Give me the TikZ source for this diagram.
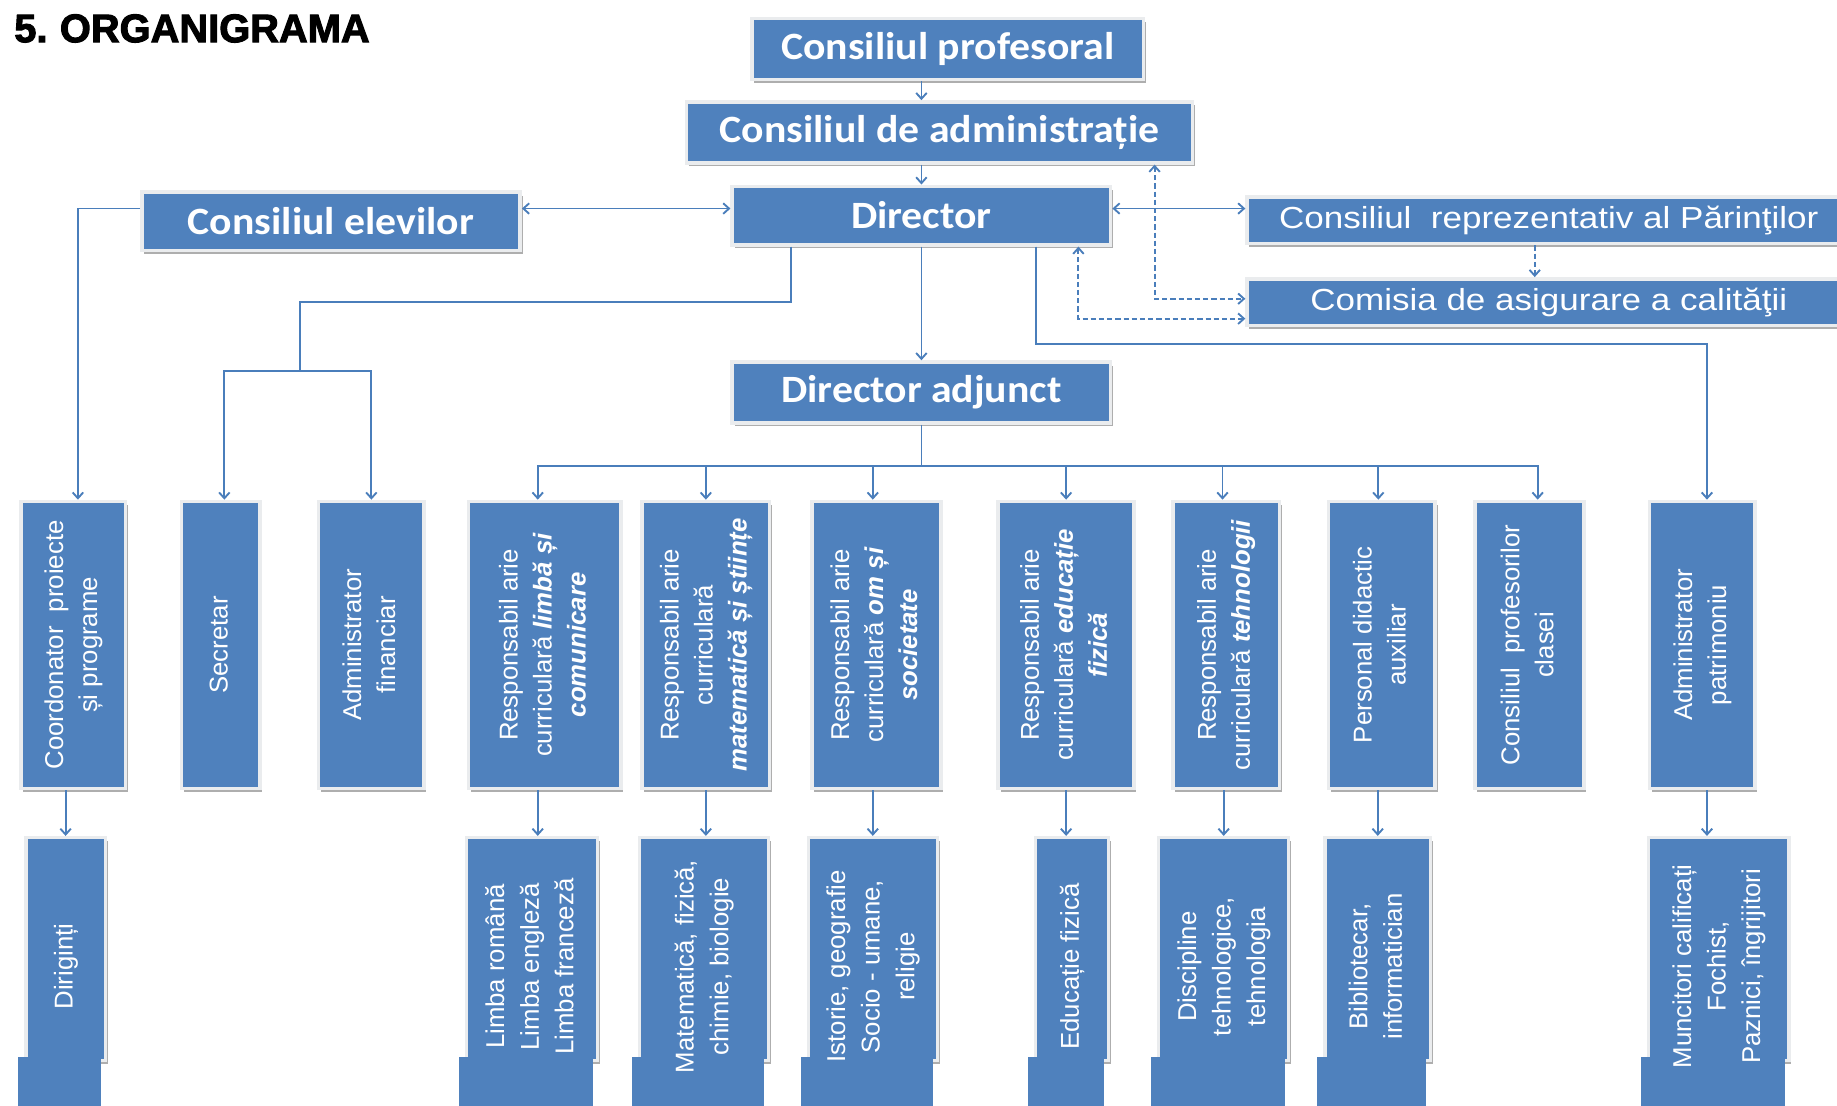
\documentclass[tikz,border=0pt]{standalone}
\usepackage{fontspec}
\usepackage{graphicx}
\setmainfont{Liberation Sans}
\newfontfamily\headfont{Carlito}[FakeStretch=1.08]
\newfontfamily\widefont{Liberation Sans}[FakeStretch=1.15]
\newfontfamily\titlefont{Liberation Sans}[FakeBold=2.5]
\usetikzlibrary{arrows.meta,shadows,positioning}

\definecolor{boxblue}{RGB}{79,129,189}
\definecolor{lineblue}{RGB}{74,126,187}
\definecolor{framegray}{RGB}{234,236,238}

\newcommand{\uptext}[1]{\rotatebox{90}{\begin{tabular}{@{}c@{}}#1\end{tabular}}}
\newcommand{\bital}[1]{\textbf{\textit{#1}}}

\tikzset{
	orgbox/.style={fill=boxblue, draw=framegray, line width=3pt, inner sep=0pt, text=white,
		drop shadow={shadow xshift=2pt, shadow yshift=-3pt, fill=black!45, opacity=0.7}},
	headbox/.style={orgbox, font=\headfont\bfseries\fontsize{33}{36}\selectfont},
	widebox/.style={orgbox, minimum width=515pt, minimum height=40pt, font=\widefont\fontsize{26}{30}\selectfont},
	upbox/.style={orgbox, minimum height=245pt, font=\fontsize{22}{29}\selectfont},
	lowbox/.style={orgbox, minimum height=190pt},
	lowtext/.style={text=white, inner sep=0pt, font=\fontsize{22}{29.5}\selectfont},
	link/.style={draw=lineblue, line width=1.6pt},
	dlink/.style={link, dash pattern=on 4.5pt off 2.5pt},
	>={Straight Barb[length=5pt,width=9pt]}
}

\begin{document}
\begin{tikzpicture}[x=1pt, y=-1pt]
	\useasboundingbox (0,0) rectangle (1568,944);
	\node [anchor=base west, inner sep=0pt, font=\titlefont\bfseries\fontsize{34}{36}\selectfont] (title) at (12,36) {5.\hspace{-2pt} ORGANIGRAMA};

	% Management boxes
	\node [headbox, minimum width=334pt, minimum height=52pt] (prof) at (809,42) {Consiliul profesoral};
	\node [headbox, minimum width=432pt, minimum height=52pt] (admin) at (802,113) {Consiliul de administrație};
	\node [headbox, minimum width=323pt, minimum height=50pt] (dir) at (786.5,184) {Director};
	\node [headbox, minimum width=323pt, minimum height=50pt] (elev) at (282.5,189) {Consiliul elevilor};
	\node [headbox, minimum width=323pt, minimum height=52pt] (adj) at (786.5,335) {Director adjunct};
	\node [widebox] (parinti) at (1322,188) {Consiliul\ \ reprezentativ al Părinţilor};
	\node [widebox] (comisia) at (1322,258) {Comisia de asigurare a calităţii};

	% Second level, vertical boxes
	\node [upbox, minimum width=89pt] (coord) at (62.5,550.5) {\uptext{Coordonator\ \ proiecte\\ și programe}};
	\node [upbox, minimum width=67pt] (secr) at (188.5,550.5) {\uptext{Secretar}};
	\node [upbox, minimum width=90pt] (fin) at (317,550.5) {\uptext{Administrator\\ financiar}};
	\node [upbox, minimum width=130pt] (limba) at (465,550.5) {\uptext{Responsabil arie\\ curriculară \bital{limbă și}\\ \bital{comunicare}}};
	\node [upbox, minimum width=109pt] (mate) at (602.5,550.5) {\uptext{Responsabil arie\\ curriculară\\ \bital{matematică și științe}}};
	\node [upbox, minimum width=110pt] (om) at (748,550.5) {\uptext{Responsabil arie\\ curriculară \bital{om și}\\ \bital{societate}}};
	\node [upbox, minimum width=116pt] (edfiz) at (910,550.5) {\uptext{Responsabil arie\\ curriculară \bital{educație}\\ \bital{fizică}}};
	\node [upbox, minimum width=91pt] (tehn) at (1046.5,550.5) {\uptext{Responsabil arie\\ curriculară \bital{tehnologii}}};
	\node [upbox, minimum width=91pt] (pers) at (1179.5,550.5) {\uptext{Personal didactic\\ auxiliar}};
	\node [upbox, minimum width=93pt] (clasei) at (1305.5,550.5) {\uptext{Consiliul\ \ profesorilor\\ clasei}};
	\node [upbox, minimum width=90pt] (patr) at (1453,550.5) {\uptext{Administrator\\ patrimoniu}};

	% Third level, boxes running off the page
	\node [lowbox, minimum width=68pt] (dirig) at (56,810) {};
	\node [lowbox, minimum width=112pt] (limb) at (454,810) {};
	\node [lowbox, minimum width=110pt] (matf) at (601,810) {};
	\node [lowbox, minimum width=110pt] (ist) at (745,810) {};
	\node [lowbox, minimum width=62pt] (edu) at (915,810) {};
	\node [lowbox, minimum width=111pt] (disc) at (1044.5,810) {};
	\node [lowbox, minimum width=90pt] (bibl) at (1176,810) {};
	\node [lowbox, minimum width=120pt] (munc) at (1467,810) {};
	\fill [boxblue] ([xshift=-5pt,yshift=4pt]dirig.south west) rectangle ([xshift=-5pt,yshift=-50pt]dirig.south east);
	\fill [boxblue] ([xshift=-5pt,yshift=4pt]limb.south west) rectangle ([xshift=-5pt,yshift=-50pt]limb.south east);
	\fill [boxblue] ([xshift=-5pt,yshift=4pt]matf.south west) rectangle ([xshift=-5pt,yshift=-50pt]matf.south east);
	\fill [boxblue] ([xshift=-5pt,yshift=4pt]ist.south west) rectangle ([xshift=-5pt,yshift=-50pt]ist.south east);
	\fill [boxblue] ([xshift=-5pt,yshift=4pt]edu.south west) rectangle ([xshift=-5pt,yshift=-50pt]edu.south east);
	\fill [boxblue] ([xshift=-5pt,yshift=4pt]disc.south west) rectangle ([xshift=-5pt,yshift=-50pt]disc.south east);
	\fill [boxblue] ([xshift=-5pt,yshift=4pt]bibl.south west) rectangle ([xshift=-5pt,yshift=-50pt]bibl.south east);
	\fill [boxblue] ([xshift=-5pt,yshift=4pt]munc.south west) rectangle ([xshift=-5pt,yshift=-50pt]munc.south east);
	\node [lowtext] (dirig-t) at (56,825) {\uptext{Diriginți}};
	\node [lowtext] (limb-t) at (454,825) {\uptext{Limba română\\ Limba engleză\\ Limba franceză}};
	\node [lowtext] (matf-t) at (601,825) {\uptext{Matematică, fizică,\\ chimie, biologie}};
	\node [lowtext] (ist-t) at (745,825) {\uptext{Istorie, geografie\\ Socio - umane,\\ religie}};
	\node [lowtext] (edu-t) at (915,825) {\uptext{Educație fizică}};
	\node [lowtext] (disc-t) at (1044.5,825) {\uptext{Discipline\\ tehnologice,\\ tehnologia}};
	\node [lowtext] (bibl-t) at (1176,825) {\uptext{Bibliotecar,\\ informatician}};
	\node [lowtext] (munc-t) at (1467,825) {\uptext{Muncitori calificați\\ Fochist,\\ Paznici, îngrijitori}};

	% Main line of command
	\draw [link, ->] (prof.south -| dir.north) -- (admin.north -| dir.north);
	\draw [link, ->] (admin.south -| dir.north) -- (dir.north);
	\draw [link, ->] (dir.south) -- (adj.north);
	\draw [link, <->] ([yshift=6pt]dir.west) -- ([yshift=6pt]dir.west -| elev.east);
	\draw [link, <->] ([yshift=6pt]dir.east) -- ([yshift=6pt]dir.east -| parinti.west);

	% Dashed links to the quality commission
	\draw [dlink, ->] ([xshift=-12pt]parinti.south) -- ([xshift=-12pt]comisia.north);
	\draw [dlink, <->] ([xshift=-34pt]admin.south east) |- ([yshift=3pt]comisia.west);
	\draw [dlink, <->] ([xshift=-29pt]dir.south east) |- ([yshift=-14pt]comisia.west);

	% Director to the staff boxes
	\coordinate (split) at (256,317);
	\draw [link] ([xshift=52pt]dir.south west) -- ++(0,47) -| (split);
	\draw [link, ->] (split) -| ([xshift=3pt]secr.north);
	\draw [link, ->] (split) -| (fin.north);
	\draw [link, ->] ([xshift=-65pt]dir.south east) -- ++(0,83) -| ([xshift=4pt]patr.north);
	\draw [link, ->] ([yshift=11pt]elev.west) -| ([xshift=4pt]coord.north);

	% Director adjunct to the curricular areas
	\draw [link] (adj.south) -- ++(0,35) coordinate (bus);
	\draw [link, ->] (bus) -| ([xshift=-6pt]limba.north);
	\draw [link, ->] (bus) -| (mate.north);
	\draw [link, ->] (bus) -| ([xshift=-3pt]om.north);
	\draw [link, ->] (bus) -| (edfiz.north);
	\draw [link, ->] (bus) -| ([xshift=-3pt]tehn.north);
	\draw [link, ->] (bus) -| ([xshift=-3pt]pers.north);
	\draw [link, ->] (bus) -| ([xshift=7pt]clasei.north);

	% Second level to third level
	\draw [link, ->] (coord.south -| dirig.north) -- (dirig.north);
	\draw [link, ->] ([xshift=-6pt]limba.south) -- ([xshift=-6pt]limba.south |- limb.north);
	\draw [link, ->] (mate.south) -- (mate.south |- matf.north);
	\draw [link, ->] (om.south -| ist.north) -- (ist.north);
	\draw [link, ->] (edfiz.south) -- (edfiz.south |- edu.north);
	\draw [link, ->] (tehn.south -| disc.north) -- (disc.north);
	\draw [link, ->] (pers.south -| bibl.north) -- (bibl.north);
	\draw [link, ->] ([xshift=4pt]patr.south) -- ([xshift=4pt]patr.south |- munc.north);
\end{tikzpicture}
\end{document}
